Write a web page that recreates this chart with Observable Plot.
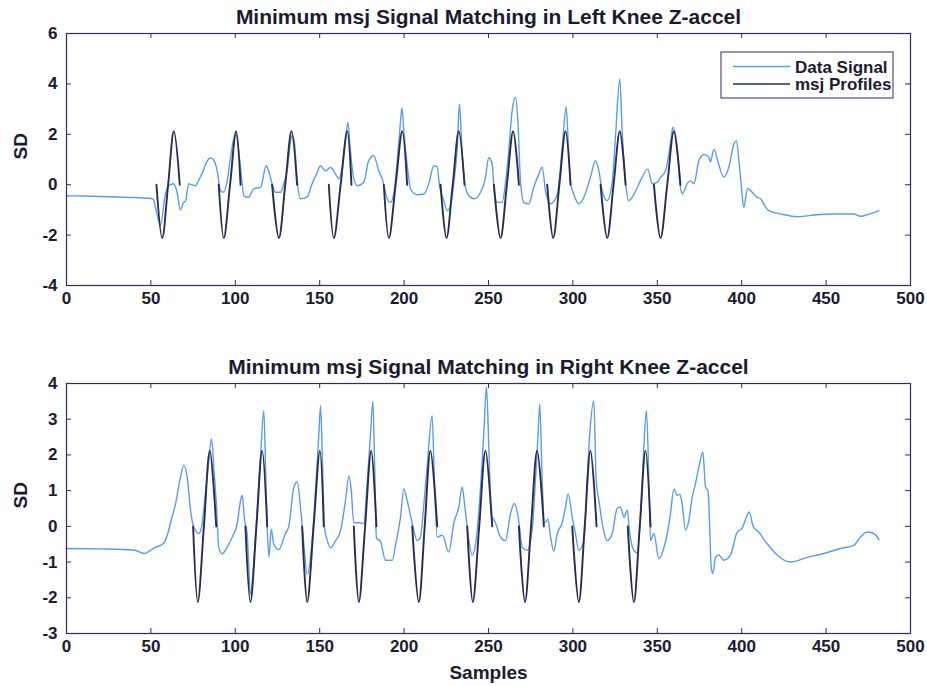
<!DOCTYPE html>
<html><head><meta charset="utf-8">
<script src="https://cdn.jsdelivr.net/npm/d3@7"></script>
<script src="https://cdn.jsdelivr.net/npm/@observablehq/plot@0.6"></script>
<style>
body{margin:0;background:#fff;}
#chart{position:relative;width:927px;height:686px;background:#fff;}
#chart svg{position:absolute;left:0;}
</style></head><body><div id="chart"></div>
<script>
// ---------- data ----------
const xTicks = [0, 50, 100, 150, 200, 250, 300, 350, 400, 450, 500];
const topYTicks = [-4, -2, 0, 2, 4, 6];
const botYTicks = [-3, -2, -1, 0, 1, 2, 3, 4];
const titles = ["Minimum msj Signal Matching in Left Knee Z-accel", "Minimum msj Signal Matching in Right Knee Z-accel"];
const yLabel = "SD";
const xLabel = "Samples";
const legendLabels = ["Data Signal", "msj Profiles"];
const profLow = -2.12, profHigh = 2.12;

const topSigX = [0,10,25,40,50,51.5,53,55.7,58.5,60.5,63.6,65.5,67.5,69.4,70.5,72.4,74,76.4,78.5,81,83,85.3,87,89.3,91.2,93,95,97,99,100.5,102,104,105,107.8,111,115,118.3,119.7,121.8,123.8,126.8,128.7,130.7,132.5,133.5,135,136.5,138.6,142.6,145.5,148,150.5,153.4,156.4,159.4,161.3,163.3,165,166.7,168,170,172.2,176.1,179,182,185,187,190,192,194,196,197.5,198.7,200,201.8,203.8,207.8,211.7,214.6,217.6,219.6,221,223.5,225.5,227.5,229.5,231.5,232.8,234.4,235.8,238.3,241.3,245.3,248.2,250.2,252.2,253.2,255.1,258.1,260,262,264,266,267.4,269,270.9,273.9,276.8,279.8,281.8,283.8,286.7,290.7,293.7,296,297.3,298.6,300.6,303.5,306.5,310.4,313.4,315.4,317.4,320.3,323.3,325.2,327.8,329.2,331.2,333.1,337.1,341,344.4,347,350,352,354.9,358,359.2,361.8,363.4,364.8,367.7,369.7,371.7,374.6,377.6,380.5,381.5,383.5,386.4,389.4,392.4,395.3,396.9,398.3,399.7,401.2,403.5,406.2,409.2,411.1,415,419,423,432.9,444.7,452.6,466.4,470.4,475,481.3];
const topSigY = [-0.44,-0.45,-0.48,-0.51,-0.55,-0.6,-1.0,-1.6,-0.4,-0.04,0.04,-0.3,-1.0,-0.7,-0.65,0.04,0.0,-0.04,0.2,0.55,0.9,1.06,1.0,0.55,-0.24,-0.3,0.08,1.0,1.8,2.0,1.3,0.1,-0.44,-0.5,-0.16,-0.1,0.75,0.55,0.04,-0.3,-0.3,0.04,0.55,1.6,1.95,1.7,0.3,-0.56,-0.48,0.04,0.4,0.75,0.55,0.68,0.42,0.24,0.7,1.6,2.47,1.5,0.3,-0.04,0.1,0.95,1.15,0.55,0.24,-0.56,-0.7,-0.3,1.0,2.2,3.05,2.0,0.82,-0.17,-0.4,-0.37,0.03,0.75,0.7,-0.05,-0.63,-1.03,-0.83,0.1,1.48,3.2,1.2,0.1,-0.44,-0.56,-0.3,0.3,1.08,0.82,-0.1,-0.7,-0.7,0.04,1.35,2.93,3.46,2.54,0.1,-0.7,-0.76,-0.1,0.42,0.69,-0.26,-0.76,-0.4,1.5,3.1,1.6,0.1,-0.4,-0.76,-0.5,0.3,0.95,0.55,-0.26,-0.63,0.1,1.88,4.2,2.1,0.1,-0.63,-0.26,0.3,0.62,0.04,0.1,0.3,0.55,1.75,2.27,1.48,0.04,-0.36,0.04,0.15,0.04,0.95,1.2,1.1,0.9,1.4,0.8,0.3,0.7,1.6,1.75,1.0,0.0,-0.9,-0.15,-0.3,-0.5,-0.56,-0.97,-1.1,-1.16,-1.27,-1.19,-1.16,-1.16,-1.25,-1.18,-1.03];

const topProfStart = [53.3, 90.2, 121.8, 155.4, 188, 221.6, 253.2, 284.8, 316.4, 348];
const topProfMin   = [56.7, 93.2, 125.8, 158.4, 191, 225.1, 257.1, 288.3, 320.3, 351.9];
const topProfMid   = [60.2, 96.9, 129.6, 162.4, 195, 228.8, 260.9, 292, 324.1, 355.9];
const topProfMax   = [63.6, 100.5, 133.3, 166.3, 198.9, 232.4, 264.6, 295.6, 327.8, 359.8];
const topProfEnd   = [67.1, 103.1, 136.6, 168.8, 201.8, 235.8, 268, 298.6, 331.2, 363.7];

const botSigX = [0,20,40,46,52,57.6,60,62,64.6,67.5,69.5,71.5,73.5,75.4,78.4,80.4,82,84,85.9,87.5,88.7,90.2,92.2,95.2,98.2,101.1,103.1,104.1,105.5,107,109,111,113,115,116.9,118,118.9,119.9,121.3,122.8,125.8,129.7,131.7,134.7,136.7,138.6,140.6,142.6,145.5,147.5,149.5,150.5,151.7,152.8,154.4,156.4,159.4,162.3,165.3,167.3,168.7,170.2,173.2,176.1,178.1,180.1,181.5,182.5,183.6,186,189,193,195,197.9,199.8,201.8,204.8,207.8,209.7,211.5,213.7,216.6,218,219.6,222.6,226.5,229.5,232.4,234.4,235.8,237.8,240.3,242.9,245.3,247.2,248.8,250.2,251.6,254.1,257.1,260.1,263,265.4,267.6,270,272.9,275.9,277.8,279.4,280.4,281.8,283.2,285.2,286.8,288.7,290.7,293.7,295.6,297.2,299.6,301.5,303.5,306.5,308.4,310,312.4,313.8,315.4,317.4,320.3,323.3,326.2,328.2,330.2,332.2,333.7,336.1,338.1,340.4,342,343.6,345,346,348,350.9,353.9,355.9,357.8,359.8,361.8,363.3,364.7,366.7,368.7,370.7,372.6,374.6,377,378.6,380,381.1,381.9,382.9,384.5,386.4,389.4,393.4,397.3,400.3,402.8,404.4,406.8,410.1,415,421,428.9,438.8,448.6,458.5,466.4,470.4,474.3,478.3,481.3];
const botSigY = [-0.62,-0.63,-0.66,-0.76,-0.6,-0.47,-0.2,0.17,0.63,1.38,1.7,1.38,0.45,-0.02,-0.2,0.07,0.8,1.7,2.45,1.5,0.7,-0.58,-0.77,-0.58,-0.3,0.07,0.72,0.87,0.16,-0.2,-1.9,-1.0,0.5,2.0,3.24,1.5,0.0,-0.86,-0.08,-0.5,-0.65,-0.2,0.0,1.1,1.24,0.54,-0.5,-1.35,-0.4,1.0,2.59,3.38,1.7,0.0,-0.38,-0.6,-0.4,-0.13,0.73,1.42,1.0,0.1,0.1,0.08,1.2,2.6,3.5,1.8,-0.33,-0.42,-0.95,-0.95,-0.5,0.26,1.05,0.73,0.08,-0.4,-0.3,0.5,1.7,3.1,1.2,-0.3,-0.25,-0.72,0.1,0.54,1.1,0.64,-0.2,-0.8,-0.3,1.1,2.6,3.9,2.2,0.35,0.1,-0.3,-0.4,0.35,0.64,0.26,-0.58,-0.67,-0.08,1.28,2.6,3.43,1.28,0.1,0.2,-0.3,-0.7,-0.2,0.1,0.54,0.91,0.26,-0.2,-0.67,-0.4,1.28,2.6,3.52,1.28,0.73,0.08,-0.4,-0.2,0.5,0.54,0.26,0.45,-0.2,-0.67,-0.74,0.54,2.2,3.24,1.28,-0.4,-0.2,-0.9,-0.6,-0.2,0.35,1.05,0.87,0.9,0.64,-0.1,0.17,0.82,1.19,1.66,2.08,1.1,1.0,-0.1,-1.13,-1.32,-0.87,-0.8,-0.95,-0.8,-0.16,-0.05,0.26,0.4,0.0,-0.16,-0.48,-0.8,-1.0,-0.87,-0.76,-0.62,-0.53,-0.3,-0.16,-0.2,-0.37];

const botProfStart = [75, 106, 139.6, 170.2, 204.8, 237.4, 268, 299.6, 332.5];
const botProfMin   = [77.8, 109, 142.6, 173.2, 208.7, 240.7, 271.6, 303.5, 336.1];
const botProfMid   = [81.4, 112.5, 146.4, 176.9, 212.2, 244.5, 275.2, 307, 339.6];
const botProfMax   = [84.9, 115.9, 150.1, 180.5, 215.6, 248.2, 278.8, 310.4, 343];
const botProfEnd   = [88.7, 118.9, 152.4, 183.6, 219.6, 252.2, 282.8, 314, 346];

// ---------- style ----------
const FONT = '"Liberation Sans", Arial, Helvetica, sans-serif';
const AXC = "#2e2e58";
const TXT = "#1b1b30";
const BLUE = "#5b9bee";
const DARK = "#2a2c4e";
const W = 927, ML = 66, MR = 17;

function panel(o) {
  const fw = W - ML - MR, fh = o.height - o.marginTop - o.marginBottom;
  const signal = o.sigX.map((x, i) => ({x, y: o.sigY[i]}));
  const prof = [];
  o.pStart.forEach((s, i) => {
    prof.push({k: i, x: s, y: 0}, {k: i, x: o.pMin[i], y: profLow}, {k: i, x: o.pMid[i], y: 0},
              {k: i, x: o.pMax[i], y: profHigh}, {k: i, x: o.pEnd[i], y: 0});
  });
  const marks = [
    Plot.line(signal, {x: "x", y: "y", stroke: BLUE, strokeWidth: 1.4, curve: "monotone-x"}),
    Plot.line(prof, {x: "x", y: "y", z: "k", stroke: DARK, strokeWidth: 1.9, curve: "catmull-rom"}),
    Plot.frame({stroke: AXC, strokeWidth: 1.2}),
    Plot.tickX(xTicks, {x: d => d, stroke: AXC, insetTop: fh - 5}),
    Plot.tickX(xTicks, {x: d => d, stroke: AXC, insetBottom: fh - 5}),
    Plot.tickY(o.yTicks, {y: d => d, stroke: AXC, insetRight: fw - 5}),
    Plot.tickY(o.yTicks, {y: d => d, stroke: AXC, insetLeft: fw - 5}),
    Plot.axisX(xTicks, {tickSize: 0, tickPadding: 6, tickFormat: d => String(d), fontSize: 17, fontWeight: "bold", label: null}),
    Plot.axisY(o.yTicks, {tickSize: 0, tickPadding: 9, tickFormat: d => String(d), fontSize: 17, fontWeight: "bold", label: null}),
    Plot.text([o.title], {frameAnchor: "top", lineAnchor: "middle", dy: -16, fontSize: 21, fontWeight: "bold", fill: TXT}),
    Plot.text([yLabel], {frameAnchor: "left", lineAnchor: "middle", dx: -46, rotate: -90, fontSize: 19, fontWeight: "bold", fill: TXT})
  ];
  if (o.xlabel) marks.push(Plot.text([o.xlabel], {frameAnchor: "bottom", lineAnchor: "middle", dy: 39, fontSize: 19, fontWeight: "bold", fill: TXT}));
  const svg = Plot.plot({
    width: W, height: o.height,
    marginLeft: ML, marginRight: MR, marginTop: o.marginTop, marginBottom: o.marginBottom,
    x: {domain: [0, 500]},
    y: {domain: o.yDomain},
    style: {fontFamily: FONT, color: TXT, background: "transparent", overflow: "visible"},
    marks
  });
  svg.style.top = o.top + "px";
  return svg;
}

const chart = document.getElementById("chart");
const svg1 = panel({sigX: topSigX, sigY: topSigY, pStart: topProfStart, pMin: topProfMin, pMid: topProfMid, pMax: topProfMax, pEnd: topProfEnd,
  yDomain: [-4, 6], yTicks: topYTicks, title: titles[0], top: 0, height: 340, marginTop: 33, marginBottom: 55});
const svg2 = panel({sigX: botSigX, sigY: botSigY, pStart: botProfStart, pMin: botProfMin, pMid: botProfMid, pMax: botProfMax, pEnd: botProfEnd,
  yDomain: [-3, 4], yTicks: botYTicks, title: titles[1], top: 340, height: 346, marginTop: 43, marginBottom: 53, xlabel: xLabel});
chart.appendChild(svg1);
chart.appendChild(svg2);

// legend (top panel)
const lg = d3.select(svg1).append("g").attr("font-family", FONT).attr("font-weight", "bold").attr("font-size", 17).attr("text-anchor", "start");
lg.append("rect").attr("x", 721).attr("y", 52).attr("width", 172).attr("height", 46).attr("fill", "#fff").attr("stroke", AXC).attr("stroke-width", 1);
const legendColors = [BLUE, DARK];
legendLabels.forEach((t, i) => {
  const y = 66.5 + i * 17.5;
  lg.append("line").attr("x1", 733).attr("x2", 790).attr("y1", y).attr("y2", y).attr("stroke", legendColors[i]).attr("stroke-width", i ? 1.6 : 1.3);
  lg.append("text").attr("x", 795).attr("y", y).attr("dy", "0.36em").attr("text-anchor", "start").attr("fill", TXT).text(t);
});
</script></body></html>
